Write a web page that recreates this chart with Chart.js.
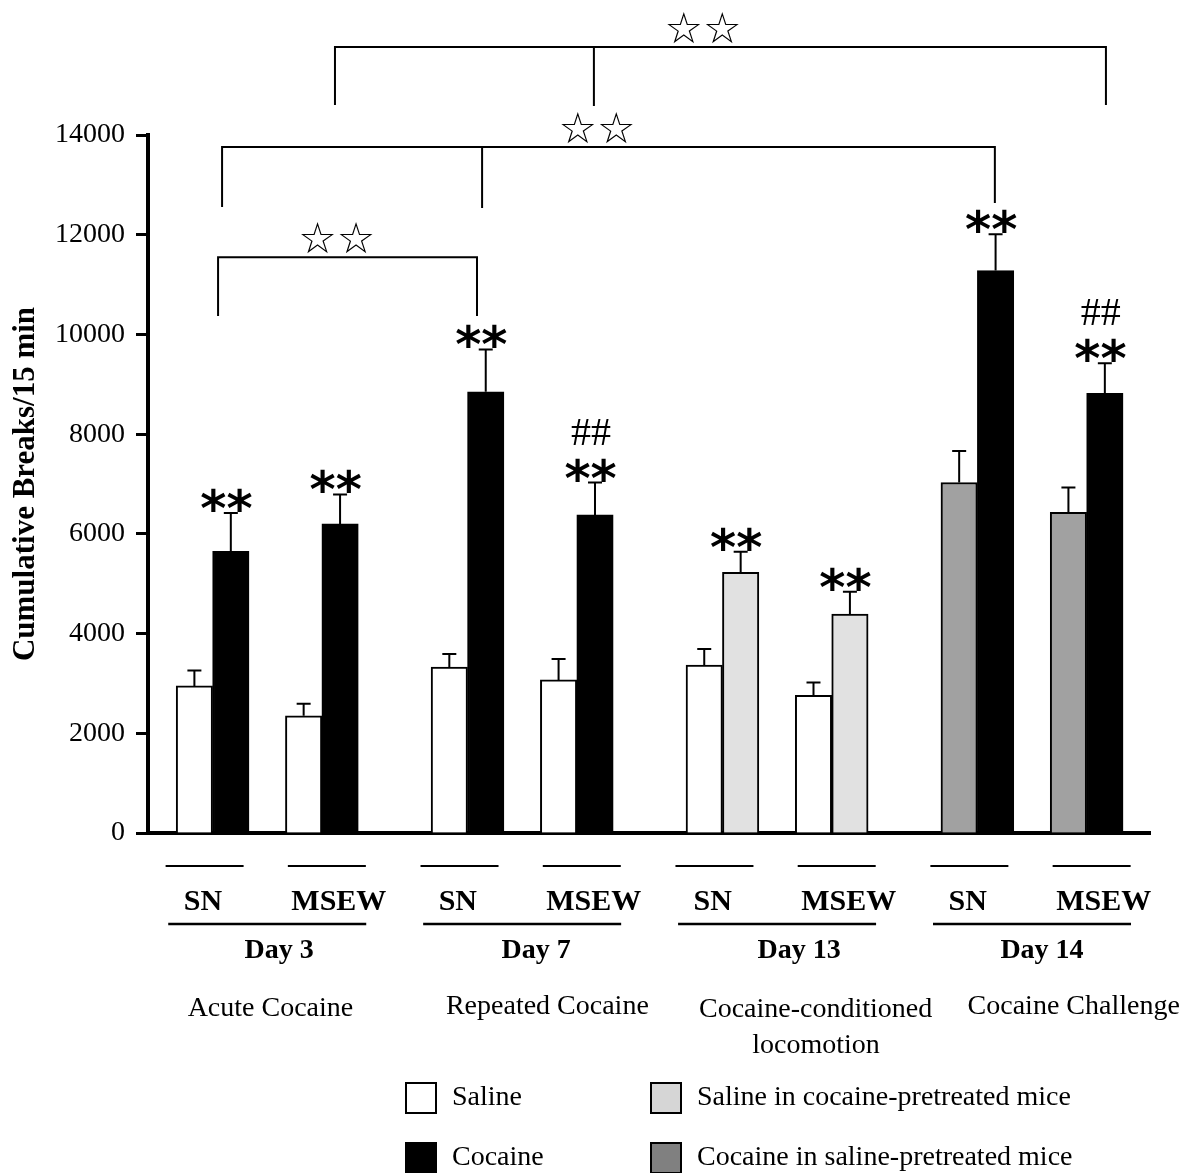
<!DOCTYPE html>
<html>
<head>
<meta charset="utf-8">
<title>Cumulative Breaks</title>
<script src="https://cdn.jsdelivr.net/npm/chart.js@4.4.1/dist/chart.umd.min.js"></script>
<style>
html, body { margin:0; padding:0; background:#ffffff; }
#wrap { width:1199px; height:1173px; position:relative; }
</style>
</head>
<body>
<div id="wrap"><canvas id="breaksChart"></canvas></div>
<script>
// =====================================================
// Data
// =====================================================

const groupLabels = ["SN","MSEW","SN","MSEW","SN","MSEW","SN","MSEW"];
const dayLabels   = ["Day 3","Day 7","Day 13","Day 14"];
const phaseLabels = [["Acute Cocaine"],["Repeated Cocaine"],["Cocaine-conditioned","locomotion"],["Cocaine Challenge"]];

// left bar / right bar of each SN or MSEW pair
const leftValues  = [2950, 2350, 3330, 3070, 3370, 2760, 7030, 6430];
const leftErrors  = [ 310,  240,  260,  420,  320,  260,  630,  500];
const rightValues = [5650, 6200, 8850, 6380, 5230, 4390, 11280, 8820];
const rightErrors = [ 770,  590,  850,  650,  410,  450,   730,  600];

const leftTreatment  = ["Saline","Saline","Saline","Saline","Saline","Saline",
                        "Cocaine in saline-pretreated mice","Cocaine in saline-pretreated mice"];
const rightTreatment = ["Cocaine","Cocaine","Cocaine","Cocaine",
                        "Saline in cocaine-pretreated mice","Saline in cocaine-pretreated mice",
                        "Cocaine","Cocaine"];

const treatments = ["Saline","Cocaine","Saline in cocaine-pretreated mice","Cocaine in saline-pretreated mice"];

const starMarks = ["**","**","**","**","**","**","**","**"];
const hashMarks = ["","","","##","","","","##"];

const yMax  = 14000;
const yStep = 2000;

// comparison brackets, x in bar slots, heights in breaks
const brackets = [
    { x:[0.65, 7.76],        ends:[10370, 10370],        level:11550, labelX:3.9  },
    { x:[0.76, 7.90, 21.98], ends:[12555, 12535, 12635], level:13760, labelX:11.05 },
    { x:[3.86, 10.97, 25.03],ends:[14600, 14580, 14600], level:15765, labelX:13.96 }
];


// =====================================================
// Layout helpers
// =====================================================

// each day uses 7 slots: SN pair, gap, MSEW pair, two gaps
function slotOf(group, side){
    return Math.floor(group / 2) * 7 + (group % 2) * 3 + side;
}

const barFill = {
    "Saline":"#ffffff",
    "Cocaine":"#000000",
    "Saline in cocaine-pretreated mice":"#e1e1e1",
    "Cocaine in saline-pretreated mice":"#a1a1a1"
};

const legendFill = {
    "Saline":"#ffffff",
    "Cocaine":"#000000",
    "Saline in cocaine-pretreated mice":"#d6d6d6",
    "Cocaine in saline-pretreated mice":"#808080"
};

function buildDatasets(){

    return treatments.map(t => {

        const points = [];

        groupLabels.forEach((g, i) => {

            if(leftTreatment[i] === t){
                points.push({ x:slotOf(i, 0), y:leftValues[i], err:leftErrors[i] });
            }

            if(rightTreatment[i] === t){
                points.push({ x:slotOf(i, 1), y:rightValues[i], err:rightErrors[i] });
            }

        });

        return {
            label:t,
            data:points,
            backgroundColor:barFill[t],
            borderColor:"#000000",
            borderWidth:2,
            borderSkipped:"start",
            grouped:false,
            barPercentage:1,
            categoryPercentage:1
        };

    });

}

const SERIF = '"Liberation Serif", "Times New Roman", serif';

function centerText(ctx, text, x, cy, font){

    ctx.font = font;
    const m = ctx.measureText(text);
    const w = m.actualBoundingBoxLeft + m.actualBoundingBoxRight;
    const h = m.actualBoundingBoxAscent + m.actualBoundingBoxDescent;
    ctx.textAlign = "left";
    ctx.textBaseline = "alphabetic";
    ctx.fillText(text, x - w / 2 + m.actualBoundingBoxLeft, cy - h / 2 + m.actualBoundingBoxAscent);

}

function bottomText(ctx, text, x, bottom, font){

    ctx.font = font;
    const m = ctx.measureText(text);
    const w = m.actualBoundingBoxLeft + m.actualBoundingBoxRight;
    ctx.textAlign = "left";
    ctx.textBaseline = "alphabetic";
    ctx.fillText(text, x - w / 2 + m.actualBoundingBoxLeft, bottom - m.actualBoundingBoxDescent);

}

function hLine(ctx, x1, x2, y, width){

    ctx.lineWidth = width;
    ctx.beginPath();
    ctx.moveTo(x1, y);
    ctx.lineTo(x2, y);
    ctx.stroke();

}


// =====================================================
// Decorations: error bars, marks, brackets, labels, legend
// =====================================================

const decorPlugin = {

    id:"decor",

    afterDatasetsDraw(chart){

        const { ctx, scales:{ x, y } } = chart;

        ctx.save();
        ctx.strokeStyle = "#000000";
        ctx.fillStyle = "#000000";
        ctx.lineWidth = 2;

        // error bars (upper only)
        chart.data.datasets.forEach((ds, di) => {

            chart.getDatasetMeta(di).data.forEach((bar, i) => {

                const p = ds.data[i];
                const top = y.getPixelForValue(p.y + p.err);

                ctx.beginPath();
                ctx.moveTo(bar.x, bar.y);
                ctx.lineTo(bar.x, top);
                ctx.moveTo(bar.x - 7, top);
                ctx.lineTo(bar.x + 7, top);
                ctx.stroke();

            });

        });

        // ** and ## over the right bar of each pair
        groupLabels.forEach((g, i) => {

            const px = x.getPixelForValue(slotOf(i, 1)) - 4;
            const top = y.getPixelForValue(rightValues[i] + rightErrors[i]);

            if(starMarks[i]) centerText(ctx, starMarks[i], px, top - 13, 'bold 50px "DejaVu Sans"');
            if(hashMarks[i]) centerText(ctx, hashMarks[i], px, top - 51, "40px " + SERIF);

        });

        // comparison brackets
        brackets.forEach(b => {

            const ly = y.getPixelForValue(b.level);
            const xs = b.x.map(v => x.getPixelForValue(v));

            ctx.lineWidth = 2;
            ctx.beginPath();
            ctx.moveTo(xs[0] - 1, ly);
            ctx.lineTo(xs[xs.length - 1] + 1, ly);
            xs.forEach((px, k) => {
                ctx.moveTo(px, ly);
                ctx.lineTo(px, y.getPixelForValue(b.ends[k]));
            });
            ctx.stroke();

            bottomText(ctx, "\u2606\u2606", x.getPixelForValue(b.labelX), ly - 3, '43px "DejaVu Sans"');

        });

        ctx.restore();

    },

    afterDraw(chart){

        const { ctx, chartArea, scales:{ x } } = chart;
        const base = chartArea.bottom;

        ctx.save();
        ctx.strokeStyle = "#000000";
        ctx.fillStyle = "#000000";

        // group rows: short line + SN / MSEW
        groupLabels.forEach((g, i) => {

            const pair = x.getPixelForValue(slotOf(i, 0) + 0.5);
            const isSN = (i % 2 === 0);
            const lineC = pair + (isSN ? -8 : 5);
            const textC = pair + (isSN ? -9 : 17);

            hLine(ctx, lineC - 39, lineC + 39, base + 33, 2);
            centerText(ctx, g, textC, base + 67, "bold 30px " + SERIF);

        });

        // day rows: long line + Day label + phase
        const dayShift   = [12, 14, 22, 10];
        const phaseShift = [3, 25, 39, 42];

        dayLabels.forEach((d, k) => {

            const c = x.getPixelForValue(k * 7 + 2);

            hLine(ctx, c - 99, c + 99, base + 91, 2.5);
            centerText(ctx, d, c + dayShift[k], base + 119, "bold 28px " + SERIF);

            phaseLabels[k].forEach((line, j) => {
                centerText(ctx, line, c + phaseShift[k], base + 174 + j * 36, "28px " + SERIF);
            });

        });

        // legend, two columns
        const legendCols = [405, 650];
        const legendRows = [1098, 1158];
        const legendOrder = [
            ["Saline", "Saline in cocaine-pretreated mice"],
            ["Cocaine", "Cocaine in saline-pretreated mice"]
        ];

        legendOrder.forEach((row, r) => {

            row.forEach((t, c) => {

                const bx = legendCols[c];
                const cy = legendRows[r];

                ctx.fillStyle = legendFill[t];
                ctx.fillRect(bx, cy - 16, 32, 32);
                ctx.lineWidth = 2;
                ctx.strokeStyle = "#000000";
                ctx.strokeRect(bx + 1, cy - 15, 30, 30);

                ctx.fillStyle = "#000000";
                ctx.font = "28px " + SERIF;
                ctx.textAlign = "left";
                ctx.textBaseline = "middle";
                ctx.fillText(t, bx + 47, cy);

            });

        });

        ctx.restore();

    }

};


// =====================================================
// Chart
// =====================================================

const canvas = document.getElementById("breaksChart");

new Chart(canvas, {

    type:"bar",

    data:{
        datasets:buildDatasets()
    },

    options:{

        responsive:true,
        maintainAspectRatio:false,
        animation:false,
        events:[],

        layout:{
            padding:{ left:0, right:49, top:135, bottom:340 }
        },

        plugins:{
            legend:{ display:false },
            tooltip:{ enabled:false }
        },

        scales:{

            x:{
                type:"linear",
                offset:false,
                min:-1.274,
                max:26.24,
                grid:{ display:false, offset:false },
                ticks:{ display:false, stepSize:5 },
                border:{ display:true, color:"#000000", width:4 },
                afterFit(scale){ scale.height = 0; }
            },

            y:{
                min:0,
                max:yMax,
                ticks:{
                    stepSize:yStep,
                    color:"#000000",
                    padding:11,
                    font:{ family:SERIF, size:28 },
                    callback:(v) => String(v)
                },
                grid:{
                    drawOnChartArea:false,
                    drawTicks:true,
                    tickLength:12,
                    tickWidth:3,
                    tickColor:"#000000"
                },
                border:{ display:true, color:"#000000", width:4 },
                title:{
                    display:true,
                    text:"Cumulative Breaks/15 min",
                    color:"#000000",
                    font:{ family:SERIF, size:31, weight:"bold" },
                    padding:{ top:7, bottom:0 }
                },
                afterFit(scale){ scale.width = 148; }
            }

        }

    },

    plugins:[decorPlugin]

});
</script>
</body>
</html>
